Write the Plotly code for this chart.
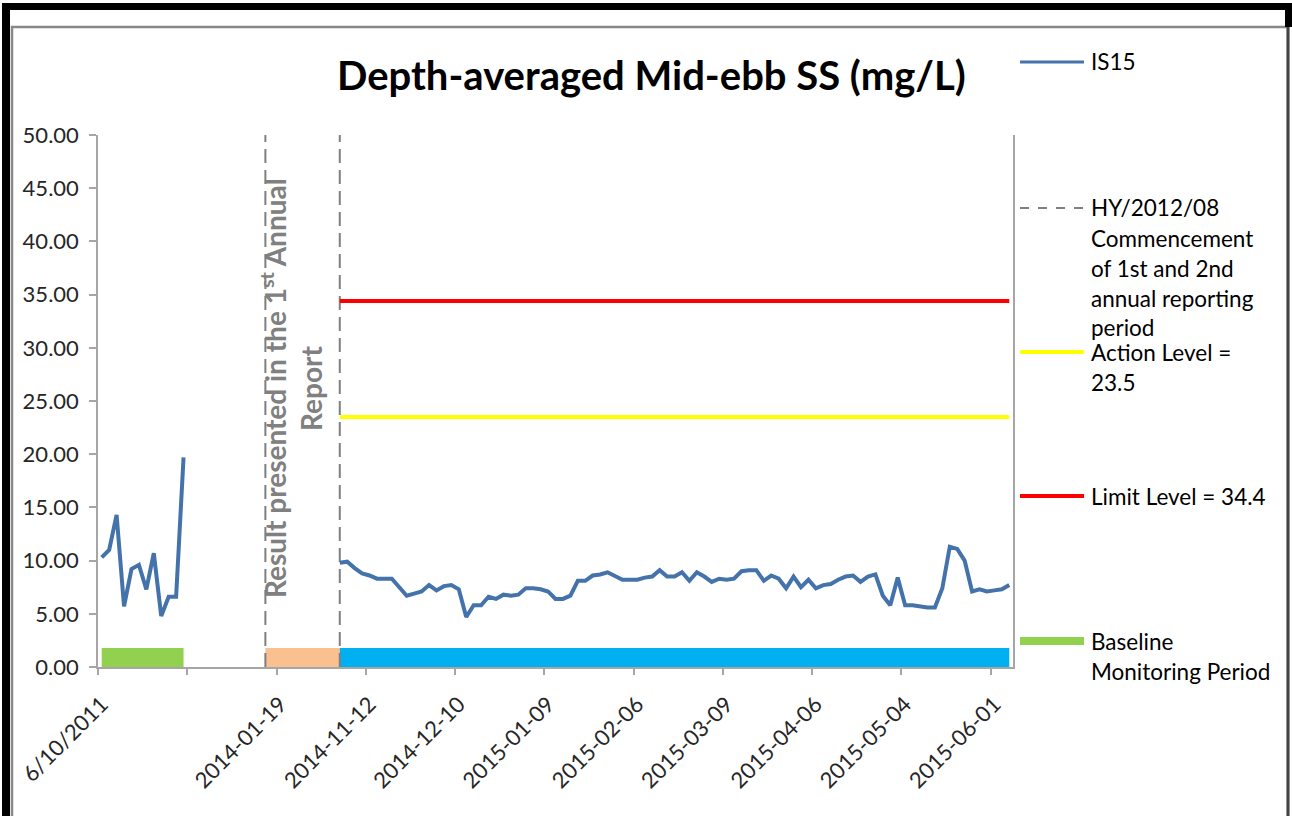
import plotly.graph_objects as go

# ---------------- data ----------------
tick_positions = [0, 24, 36, 48, 60, 72, 84, 96, 108, 120]
tick_labels = ["6/10/2011", "2014-01-19", "2014-11-12", "2014-12-10", "2015-01-09",
               "2015-02-06", "2015-03-09", "2015-04-06", "2015-05-04", "2015-06-01"]

baseline_values = [10.3, 11.0, 14.3, 5.7, 9.2, 9.6, 7.3, 10.7, 4.8, 6.6, 6.6, 19.7]
gap_count = 20
current_values = [
    9.8, 9.9, 9.3, 8.8, 8.6, 8.3, 8.3, 8.3, 7.5, 6.7,
    6.9, 7.1, 7.7, 7.2, 7.6, 7.7, 7.3, 4.7, 5.8, 5.8,
    6.6, 6.4, 6.8, 6.7, 6.8, 7.4, 7.4, 7.3, 7.1, 6.4,
    6.4, 6.7, 8.1, 8.1, 8.6, 8.7, 8.9, 8.6, 8.2, 8.2,
    8.2, 8.4, 8.5, 9.1, 8.5, 8.5, 8.9, 8.1, 8.9, 8.5,
    8.0, 8.3, 8.2, 8.3, 9.0, 9.1, 9.1, 8.1, 8.6, 8.3,
    7.4, 8.5, 7.5, 8.2, 7.4, 7.7, 7.8, 8.2, 8.5, 8.6,
    8.0, 8.5, 8.7, 6.7, 5.8, 8.4, 5.8, 5.8, 5.7, 5.6,
    5.6, 7.4, 11.3, 11.1, 10.0, 7.1, 7.3, 7.1, 7.2, 7.3,
    7.7,
]
is15 = baseline_values + [None] * gap_count + current_values
categories = list(range(len(is15)))

action_level = 23.5
limit_level = 34.4
period_bar_level = 0.9
baseline_period = [0, 11]
first_report_period = [22, 32]
current_period = [32, len(is15) - 1]
commencement_markers = [22, 32]

# ---------------- layout helpers ----------------
W, H = 1292, 816
L, R, T, B = 98, 1013, 135, 667


def px(x):
    return (x - L) / (R - L)


def py(y):
    return (B - y) / (B - T)


fig = go.Figure()

# period bars
for rng, col in [(baseline_period, "#92D050"), (first_report_period, "#FAC090"),
                 (current_period, "#00B0F0")]:
    fig.add_trace(go.Scatter(x=rng, y=[period_bar_level] * 2, mode="lines",
                             line=dict(color=col, width=19), hoverinfo="skip"))

# commencement dashed lines
for m in commencement_markers:
    fig.add_trace(go.Scatter(x=[m, m], y=[0, 50], mode="lines",
                             line=dict(color="#7F7F7F", width=2, dash="14px,7px"),
                             hoverinfo="skip"))

# levels
fig.add_trace(go.Scatter(x=current_period, y=[action_level] * 2, mode="lines",
                         line=dict(color="#FFFF00", width=4)))
fig.add_trace(go.Scatter(x=current_period, y=[limit_level] * 2, mode="lines",
                         line=dict(color="#FF0000", width=4)))

# IS15 series
fig.add_trace(go.Scatter(x=categories, y=is15, mode="lines", connectgaps=False,
                         line=dict(color="#4472AA", width=4)))

font_family = "Lato"

annotations = []
# title
annotations.append(dict(x=px(651), y=py(75), xref="paper", yref="paper",
                        text="<b>Depth-averaged Mid-ebb SS (mg/L)</b>", showarrow=False,
                        xanchor="center", yanchor="middle",
                        font=dict(family=font_family, size=40, color="#000")))
# rotated note
annotations.append(dict(x=px(273), y=py(388), xref="paper", yref="paper",
                        text="<b>Result presented in the 1<sup>st</sup> Annual</b>",
                        textangle=-90, showarrow=False, xanchor="center", yanchor="middle",
                        font=dict(family=font_family, size=28, color="#808080")))
annotations.append(dict(x=px(311), y=py(389), xref="paper", yref="paper",
                        text="<b>Report</b>",
                        textangle=-90, showarrow=False, xanchor="center", yanchor="middle",
                        font=dict(family=font_family, size=28, color="#808080")))

# legend text
legend_lines = [
    ("IS15", 62),
    ("HY/2012/08", 208), ("Commencement", 238), ("of 1st and 2nd", 268),
    ("annual reporting", 298), ("period", 327),
    ("Action Level =", 352), ("23.5", 382),
    ("Limit Level = 34.4", 496),
    ("Baseline", 641), ("Monitoring Period", 671),
]
for txt, yy in legend_lines:
    annotations.append(dict(x=px(1089), y=py(yy), xref="paper", yref="paper", text=txt,
                            showarrow=False, xanchor="left", yanchor="middle",
                            font=dict(family=font_family, size=22.5, color="#000")))

shapes = []
# legend samples
for yy, col, wdt, dash in [(62, "#4472AA", 3, "solid"), (208, "#7F7F7F", 2, "dash"),
                           (352, "#FFFF00", 4, "solid"), (496, "#FF0000", 4, "solid"),
                           (641, "#92D050", 8, "solid")]:
    shapes.append(dict(type="line", xref="paper", yref="paper",
                       x0=px(1020), x1=px(1084), y0=py(yy), y1=py(yy),
                       line=dict(color=col, width=wdt, dash=dash)))

# frame
shapes.append(dict(type="rect", xref="paper", yref="paper", x0=px(12), x1=px(1288),
                   y0=py(830), y1=py(27), line=dict(color="#888888", width=2.5)))
shapes.append(dict(type="rect", xref="paper", yref="paper", x0=px(2), x1=px(10),
                   y0=py(820), y1=py(3), fillcolor="#000", line=dict(width=0)))
shapes.append(dict(type="rect", xref="paper", yref="paper", x0=px(2), x1=px(1292),
                   y0=py(10), y1=py(3), fillcolor="#000", line=dict(width=0)))
shapes.append(dict(type="rect", xref="paper", yref="paper", x0=px(1285), x1=px(1292),
                   y0=py(27), y1=py(3), fillcolor="#000", line=dict(width=0)))
shapes.append(dict(type="line", xref="paper", yref="paper", x0=px(1288), x1=px(1288),
                   y0=py(820), y1=py(27), line=dict(color="#444", width=3)))

fig.update_layout(
    width=W, height=H,
    margin=dict(l=L, r=W - R, t=T, b=H - B),
    paper_bgcolor="white", plot_bgcolor="white",
    showlegend=False,
    annotations=annotations,
    shapes=shapes,
    xaxis=dict(range=[-0.5, len(is15) - 0.5], tickmode="array", tickvals=tick_positions,
               ticktext=tick_labels, tickangle=-45, ticks="", showgrid=False, zeroline=False,
               showline=True, linecolor="#A6A6A6", linewidth=1.5,
               minor=dict(tick0=-0.5, dtick=12, ticks="outside", ticklen=6,
                          tickcolor="#A6A6A6", tickwidth=1.5, showgrid=False),
               tickfont=dict(family=font_family, size=22, color="#262626"),
               ticklabelstandoff=14),
    yaxis=dict(range=[0, 50], dtick=5, tickformat=".2f", ticks="outside", ticklen=7,
               tickcolor="#A6A6A6", tickwidth=1.5, showgrid=False, zeroline=False,
               showline=True, linecolor="#A6A6A6", linewidth=1.5, mirror=True,
               ticklabelstandoff=6,
               tickfont=dict(family=font_family, size=22, color="#262626")),
)

fig.write_html("out.html", config={"displayModeBar": False},
               post_script="document.body.style.margin='0px';document.body.style.overflow='hidden';")
